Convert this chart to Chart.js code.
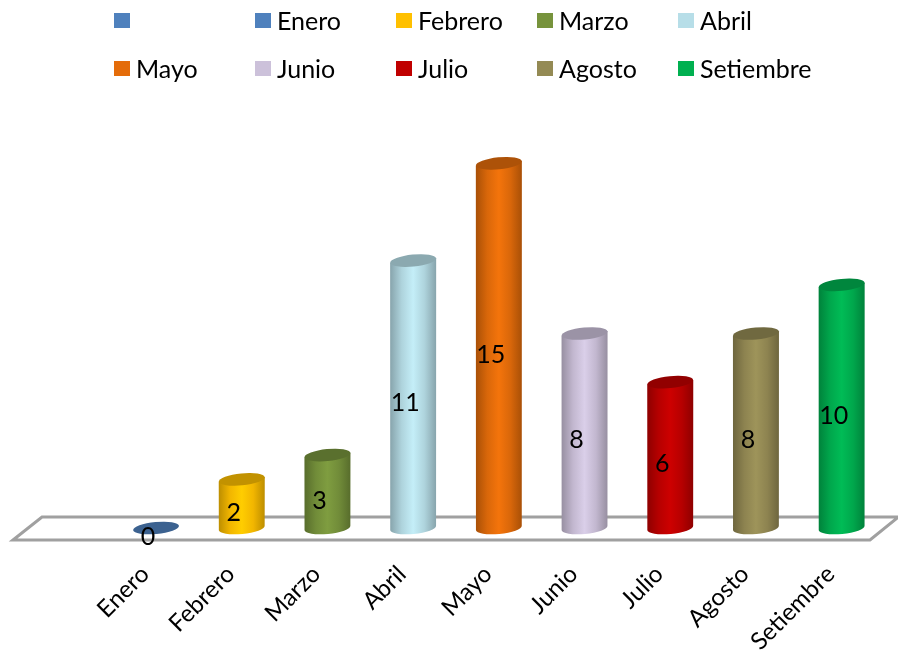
<!DOCTYPE html>
<html>
<head>
<meta charset="utf-8">
<title>Casos por mes</title>
<script src="https://cdn.jsdelivr.net/npm/chart.js@4"></script>
<style>
  body { margin: 0; background: #fff; }
  #wrap { position: relative; width: 898px; height: 652px; overflow: hidden; }
  #legend {
    position: absolute; left: 114px; top: -1px;
    display: grid; grid-template-columns: repeat(5, 141px); grid-auto-rows: 48px;
    font: 25px Lato, sans-serif; color: #000;
  }
  #legend div { display: flex; align-items: center; height: 42px; }
  #legend i { display: block; width: 16px; height: 15px; margin: 1px 6px 0 0; flex: none; }
</style>
</head>
<body>
<div id="wrap">
  <div id="legend"></div>
  <canvas id="chart" width="898" height="652"></canvas>
</div>
<script>
// first category is blank in the original sheet, it only shows up in the legend
const months = ['', 'Enero', 'Febrero', 'Marzo', 'Abril', 'Mayo', 'Junio', 'Julio', 'Agosto', 'Setiembre'];
const counts = [null, 0, 2, 3, 11, 15, 8, 6, 8, 10];
const barColors = ['#4f81bd', '#4f81bd', '#ffc000', '#77933c', '#b7dee8', '#e46c0a', '#ccc1da', '#c00000', '#948a54', '#00b050'];

const labelFont = '25px Lato, sans-serif';

// darken or lighten a hex colour
function shade(hex, f) {
  const n = parseInt(hex.slice(1), 16);
  const c = [n >> 16, (n >> 8) & 255, n & 255].map(v => Math.min(255, Math.round(v * f)));
  return 'rgb(' + c.join(',') + ')';
}

// Legend
months.forEach(function(name, i) {
  const item = document.createElement('div');
  const box = document.createElement('i');
  box.style.background = barColors[i];
  item.appendChild(box);
  item.appendChild(document.createTextNode(name));
  document.getElementById('legend').appendChild(item);
});

// Floor of the fake 3D chart, built from the x scale and the zero line
const floorPlugin = {
  id: 'floor',
  beforeDatasetsDraw(chart) {
    const ctx = chart.ctx;
    const x = chart.scales.x;
    const base = chart.scales.y.getPixelForValue(0);
    ctx.save();
    ctx.beginPath();
    ctx.moveTo(x.left - 14.5, base + 12);
    ctx.lineTo(x.left + 14.5, base - 11);
    ctx.lineTo(x.right + 14, base - 11);
    ctx.lineTo(x.right - 14.5, base + 12);
    ctx.closePath();
    ctx.strokeStyle = '#a0a0a0';
    ctx.lineWidth = 3;
    ctx.stroke();
    ctx.restore();
  }
};

// Draws each bar element as a cylinder plus the value label
const cylinderPlugin = {
  id: 'cylinder',
  beforeDatasetDraw(chart, args) {
    const ctx = chart.ctx;
    const tilt = -5.5 * Math.PI / 180;
    args.meta.data.forEach(function(bar, i) {
      if (counts[i] === null) return;
      const color = barColors[i];
      const r = bar.width / 2;
      const ry = 6;
      const dy = r * Math.sin(tilt);
      ctx.save();
      if (counts[i] > 0) {
        const g = ctx.createLinearGradient(bar.x - r, 0, bar.x + r, 0);
        g.addColorStop(0, shade(color, 0.74));
        g.addColorStop(0.25, shade(color, 0.95));
        g.addColorStop(0.5, shade(color, 1.07));
        g.addColorStop(0.75, shade(color, 0.95));
        g.addColorStop(1, shade(color, 0.74));
        ctx.beginPath();
        ctx.moveTo(bar.x - r, bar.y - dy);
        ctx.ellipse(bar.x, bar.base, r, ry, tilt, Math.PI, 0, true);
        ctx.lineTo(bar.x + r, bar.y + dy);
        ctx.closePath();
        ctx.fillStyle = g;
        ctx.fill();
      }
      ctx.beginPath();
      ctx.ellipse(bar.x, bar.y, r, ry, tilt, 0, Math.PI * 2);
      ctx.fillStyle = shade(color, 0.76);
      ctx.fill();
      ctx.restore();
    });
    return false;
  },
  afterDatasetsDraw(chart) {
    const ctx = chart.ctx;
    const bars = chart.getDatasetMeta(0).data;
    ctx.save();
    ctx.font = labelFont;
    ctx.fillStyle = '#000';
    ctx.textAlign = 'center';
    ctx.textBaseline = 'middle';
    bars.forEach(function(bar, i) {
      if (counts[i] === null) return;
      ctx.fillText(String(counts[i]), bar.x - 8, (bar.y + bar.base) / 2 + 9);
    });
    ctx.restore();
  }
};

const chart = new Chart(document.getElementById('chart').getContext('2d'), {
  type: 'bar',
  data: {
    labels: months,
    datasets: [{
      data: counts,
      backgroundColor: barColors,
      barPercentage: 0.537,
      categoryPercentage: 1
    }]
  },
  options: {
    responsive: false,
    animation: false,
    layout: { padding: { top: 139, left: 27.5, right: 13.5, bottom: 0 } },
    plugins: { legend: { display: false }, tooltip: { enabled: false } },
    scales: {
      x: {
        grid: { display: false },
        border: { display: false },
        afterFit(scale) { scale.height = 124; },
        ticks: {
          color: '#000',
          font: { family: 'Lato, sans-serif', size: 24 },
          minRotation: 45,
          maxRotation: 45,
          autoSkip: false,
          padding: 24,
          labelOffset: -11
        }
      },
      y: { display: false, min: 0, max: 16 }
    }
  },
  plugins: [floorPlugin, cylinderPlugin]
});
</script>
</body>
</html>
